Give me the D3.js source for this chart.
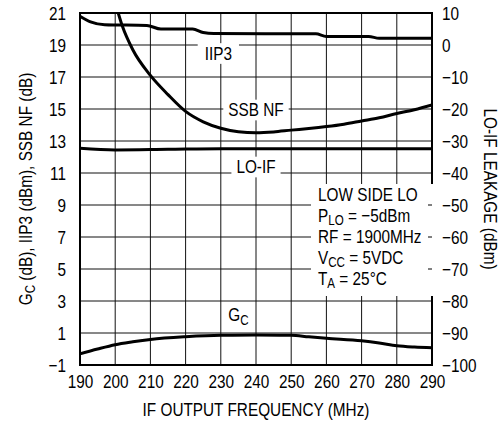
<!DOCTYPE html>
<html>
<head>
<meta charset="utf-8">
<script src="https://cdn.jsdelivr.net/npm/d3@7"></script>
<style>
  body { margin: 0; background: #fff; }
  svg text { font-family: "Liberation Sans", Arial, Helvetica, sans-serif; font-size: 18.5px; fill: #000; }
</style>
</head>
<body>
<svg id="graph"></svg>
<script>
/* values */
var iip3 = [[190,20.8],[193,20.45],[197,20.27],[209,20.22],[213,20.0],[222,20.0],[225,19.78],[228,19.72],
            [257,19.7],[260,19.53],[272,19.53],[275,19.42],[290,19.42]];
var ssbNF = [[200,21.65],[202,20.2],[205,18.7],[210,17.1],[215,15.9],[220,14.85],[225,14.2],[230,13.8],
             [235,13.58],[240,13.52],[245,13.57],[250,13.68],[255,13.78],[260,13.9],[265,14.05],
             [270,14.25],[275,14.45],[280,14.72],[285,14.95],[290,15.25]];
var gc = [[190,-0.3],[195,0.0],[200,0.27],[205,0.45],[210,0.6],[220,0.77],[230,0.86],[240,0.87],
          [250,0.86],[255,0.76],[260,0.67],[270,0.52],[275,0.38],[280,0.2],[285,0.12],[290,0.08]];
// LO-IF leakage is on the right axis (dBm)
var loif = [[190,-32.3],[200,-32.8],[215,-32.6],[230,-32.4],[290,-32.4]];

var xTicks = d3.range(190, 291, 10);
var yLeftTicks = d3.range(-1, 22, 2);
var yRightTicks = d3.range(-100, 11, 10);

var svg = d3.select("#graph")
    .attr("width", 500)
    .attr("height", 421);

// no condensed face installed: squeeze the regular one so the x title is ~227px wide
var probe = svg.append("text").text("IF OUTPUT FREQUENCY (MHz)");
var NARROW = 227 / probe.node().getComputedTextLength();
probe.remove();

var margin = {top: 13, right: 68, bottom: 56, left: 80},
    width = 500 - margin.left - margin.right,
    height = 421 - margin.top - margin.bottom;

var x = d3.scaleLinear().domain([190, 290]).range([0, width]),
    yL = d3.scaleLinear().domain([-1, 21]).range([height, 0]),
    yR = d3.scaleLinear().domain([-100, 10]).range([height, 0]);

function condense(sel) {
    sel.each(function() {
        var t = d3.select(this);
        var tx = +t.attr("x") || 0, ty = +t.attr("y") || 0;
        var tr = t.attr("transform") || "";
        t.attr("x", null).attr("y", null)
         .attr("transform", tr + " translate(" + tx + "," + ty + ") scale(" + NARROW + ",1)");
        t.selectAll("tspan[x]").attr("x", 0);
    });
}

var g = svg.append("g")
    .attr("transform", "translate(" + margin.left + "," + margin.top + ")");

g.append("clipPath").attr("id", "clip")
  .append("rect").attr("width", width).attr("height", height);

// grid
g.append("g").selectAll("line")
  .data(xTicks)
  .enter().append("line")
    .attr("x1", function(d) { return x(d); })
    .attr("x2", function(d) { return x(d); })
    .attr("y1", 0).attr("y2", height)
    .attr("stroke", "#111").attr("stroke-width", 1);

g.append("g").selectAll("line")
  .data(yLeftTicks)
  .enter().append("line")
    .attr("x1", 0).attr("x2", width)
    .attr("y1", function(d) { return yL(d); })
    .attr("y2", function(d) { return yL(d); })
    .attr("stroke", "#111").attr("stroke-width", 1);

// frame
g.append("rect")
    .attr("width", width).attr("height", height)
    .attr("fill", "none").attr("stroke", "#000").attr("stroke-width", 2);

// axes (labels only)
var xaxis = g.append("g")
    .attr("transform", "translate(0," + height + ")")
    .call(d3.axisBottom(x).tickValues(xTicks).tickSize(0).tickPadding(10).tickFormat(d3.format("d")));

var yaxisL = g.append("g")
    .call(d3.axisLeft(yL).tickValues(yLeftTicks).tickSize(0).tickPadding(14));

var yaxisR = g.append("g")
    .attr("transform", "translate(" + width + ",0)")
    .call(d3.axisRight(yR).tickValues(yRightTicks).tickSize(0).tickPadding(10));

[xaxis, yaxisL, yaxisR].forEach(function(a) {
    a.select(".domain").remove();
    a.selectAll("text").attr("font-size", null).attr("font-family", null).call(condense);
});
yaxisL.selectAll("text").attr("dy", "0.36em");
yaxisR.selectAll("text").attr("dy", "0.36em");

// conditions box (hides grid and right frame)
var box = {x0: 231, x1: 354, y0: 171, y1: 283};
g.append("rect")
    .attr("x", box.x0).attr("y", box.y0)
    .attr("width", box.x1 - box.x0).attr("height", box.y1 - box.y0)
    .attr("fill", "#fff");

g.append("g").selectAll("line")
  .data(yRightTicks.filter(function(d) { return yR(d) > box.y0 && yR(d) < box.y1; }))
  .enter().append("line")
    .attr("x1", width - 4).attr("x2", width)
    .attr("y1", function(d) { return yR(d); })
    .attr("y2", function(d) { return yR(d); })
    .attr("stroke", "#000").attr("stroke-width", 1);

function subLine(parent, yy, main, sub, rest) {
    var t = parent.append("text").attr("x", 238).attr("y", yy);
    t.append("tspan").text(main);
    if (sub) {
        t.append("tspan").attr("font-size", "14px").attr("dy", 3.5).text(sub);
        t.append("tspan").attr("dy", -3.5).text(rest);
    }
    return t;
}
var cond = g.append("g");
subLine(cond, 187.5, "LOW SIDE LO");
subLine(cond, 208.5, "P", "LO", " = \u22125dBm");
subLine(cond, 229.5, "RF = 1900MHz");
subLine(cond, 250.5, "V", "CC", " = 5VDC");
subLine(cond, 271.5, "T", "A", " = 25\u00B0C");
cond.selectAll("text").call(condense);

// curve labels sitting on the grid
function gridLabel(txt, f, yy, pad) {
    var t = g.append("text")
        .attr("x", x(f)).attr("y", yy)
        .attr("text-anchor", "middle")
        .text(txt)
        .call(condense);
    var b = t.node().getBBox();
    var w = b.width * NARROW;
    g.insert("rect", function() { return t.node(); })
        .attr("x", x(f) - w / 2 - pad).attr("y", yy + b.y)
        .attr("width", w + 2 * pad).attr("height", b.height)
        .attr("fill", "#fff");
}
gridLabel("IIP3", 229.3, yL(19) + 14.5, 7);
gridLabel("SSB NF", 240, yL(15) + 7, 5);
gridLabel("LO-IF", 240, yL(11), 5);

var gcLab = g.append("text").attr("x", x(235)).attr("y", 308).attr("text-anchor", "middle");
gcLab.append("tspan").text("G");
gcLab.append("tspan").attr("font-size", "14px").attr("dy", 3.5).text("C");
gcLab.call(condense);

// curves
var lineL = d3.line()
    .x(function(d) { return x(d[0]); })
    .y(function(d) { return yL(d[1]); })
    .curve(d3.curveMonotoneX);
var lineR = d3.line()
    .x(function(d) { return x(d[0]); })
    .y(function(d) { return yR(d[1]); })
    .curve(d3.curveMonotoneX);

var curves = g.append("g").attr("clip-path", "url(#clip)");
[iip3, ssbNF, gc].forEach(function(s) {
    curves.append("path").datum(s)
        .attr("d", lineL)
        .attr("fill", "none").attr("stroke", "#000").attr("stroke-width", 3);
});
curves.append("path").datum(loif)
    .attr("d", lineR)
    .attr("fill", "none").attr("stroke", "#000").attr("stroke-width", 3);

// axis titles
svg.append("text")
    .attr("x", margin.left + width / 2).attr("y", 416)
    .attr("text-anchor", "middle")
    .text("IF OUTPUT FREQUENCY (MHz)")
    .call(condense);

var tl = svg.append("text")
    .attr("transform", "translate(31.5," + (margin.top + height / 2) + ") rotate(-90)")
    .attr("text-anchor", "middle");
tl.append("tspan").text("G");
tl.append("tspan").attr("font-size", "14px").attr("dy", 3.5).text("C");
tl.append("tspan").attr("dy", -3.5).text(" (dB), IIP3 (dBm), SSB NF (dB)");
tl.call(condense);

svg.append("text")
    .attr("transform", "translate(484," + (margin.top + height / 2) + ") rotate(90)")
    .attr("text-anchor", "middle")
    .text("LO-IF LEAKAGE (dBm)")
    .call(condense);
</script>
</body>
</html>
